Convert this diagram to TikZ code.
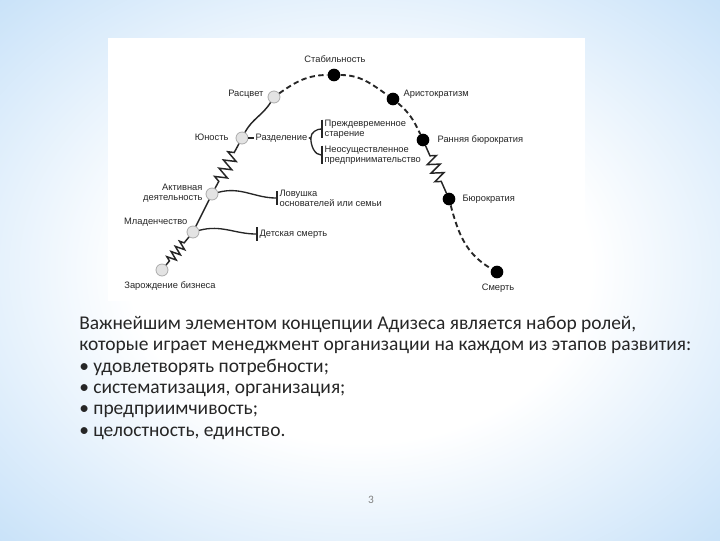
\documentclass[tikz,border=0pt]{standalone}
\usepackage{fontspec}
\setmainfont{Carlito}
\newfontfamily\labfont{Liberation Sans}
\usetikzlibrary{arrows.meta,decorations.pathmorphing}
\definecolor{sky}{RGB}{178,214,246}
\pgfdeclareradialshading{glow}{\pgfpoint{0bp}{0bp}}{color(0bp)=(white); color(16bp)=(white); color(27bp)=(sky!40!white); color(34bp)=(sky!65!white); color(41bp)=(sky!90!white); color(48bp)=(sky); color(60bp)=(sky)}
\begin{document}
\begin{tikzpicture}[x=0.75pt,y=-0.75pt]
\tikzstyle{growdot}=[circle,draw=gray!65,fill=gray!22,line width=0.6pt,minimum size=9pt,inner sep=0pt]
\tikzstyle{agedot}=[circle,fill=black,minimum size=9.5pt,inner sep=0pt]
\tikzstyle{lab}=[font=\labfont\fontsize{7}{7.6}\selectfont,text=black!85,inner sep=1pt]
\tikzstyle{link}=[line width=1.1pt,black!85]
\tikzstyle{dashline}=[line width=1.4pt,black!85,dash pattern=on 4pt off 2.5pt]
\tikzstyle{spring}=[decorate,decoration={zigzag,segment length=5pt,amplitude=3.5pt,pre length=4pt,post length=4pt}]
\tikzstyle{endbar}=[line width=1pt,black!85,-{Bar[width=10pt,line width=1.8pt]}]
% background of the slide
\shade[shading=glow] (0,0) rectangle (720,540);
\fill[white] (108,38) rectangle (585,301);
% stages of the life cycle
\node[growdot] (birth) at (162,270) {};
\node[growdot] (infant) at (193,232) {};
\node[growdot] (active) at (212,194) {};
\node[growdot] (youth) at (242,138) {};
\node[growdot] (prime) at (274,97) {};
\node[agedot] (stab) at (334,75) {};
\node[agedot] (arist) at (393,99) {};
\node[agedot] (early) at (423,140) {};
\node[agedot] (bureau) at (449,199) {};
\node[agedot] (death) at (497,272) {};
% their names
\node[lab] (tbirth) at (170,286) {Зарождение бизнеса};
\node[lab,anchor=east] (tinfant) at (189,222) {Младенчество};
\node[lab,anchor=east,align=right] (tactive) at (204,193) {Активная\\деятельность};
\node[lab,anchor=east] (tyouth) at (230,137) {Юность};
\node[lab,anchor=east] (tprime) at (265,94) {Расцвет};
\node[lab] (tstab) at (335,59) {Стабильность};
\node[lab,anchor=west] (tarist) at (402,94) {Аристократизм};
\node[lab,anchor=west] (tearly) at (436,140) {Ранняя бюрократия};
\node[lab,anchor=west] (tbureau) at (461,199) {Бюрократия};
\node[lab] (tdeath) at (498,288) {Смерть};
% traps
\node[lab,anchor=west] (split) at (254,138) {Разделение};
\node[lab,anchor=west,align=left] (aging) at (323,129) {Преждевременное\\старение};
\node[lab,anchor=west,align=left] (unreal) at (323,155) {Неосуществленное\\предпринимательство};
\node[lab,anchor=west,align=left] (trap) at (278,198) {Ловушка\\основателей или семьи};
\node[lab,anchor=west] (childdeath) at (258,234) {Детская смерть};
% the curve
\draw[link,spring] (birth) -- (infant);
\draw[link] (infant) -- (active);
\draw[link,spring,decoration={segment length=7pt,amplitude=4.5pt,pre length=6pt,post length=7pt}] (active) -- (youth);
\draw[link] (youth) to[out=62,in=238] (prime);
\draw[dashline] (prime) to[out=35,in=180] (stab);
\draw[dashline] (stab) to[out=0,in=145] (arist);
\draw[dashline] (arist) to[out=-40,in=115] (early);
\draw[link,spring,decoration={segment length=7pt,amplitude=4.5pt,pre length=8pt,post length=8pt}] (early) -- (bureau);
\draw[dashline] (bureau) to[out=-75,in=150] (death);
% branches
\draw[link] (youth) -- (split);
\draw[endbar,-{Bar[width=14pt,line width=1.8pt]}] (split.east) -- ++(2,0) to[out=90,in=180] (aging.west);
\draw[endbar,-{Bar[width=14pt,line width=1.8pt]}] (split.east) -- ++(2,0) to[out=-90,in=180] (unreal.west);
\draw[endbar] (active) to[out=15,in=180] (trap.west);
\draw[endbar] (infant) to[out=15,in=180] (childdeath.west);
% text of the slide
\node[anchor=north west,align=left,inner sep=0pt,text=black!85,font=\fontsize{14.6}{16}\selectfont] (body) at (79,316) {Важнейшим элементом концепции Адизеса является набор ролей,\\
которые играет менеджмент организации на каждом из этапов развития:\\
• удовлетворять потребности;\\
• систематизация, организация;\\
• предприимчивость;\\
• целостность, единство.};
\node[text=gray,font=\fontsize{8.5}{10}\selectfont] (pnum) at (371,500) {3};
\end{tikzpicture}
\end{document}
